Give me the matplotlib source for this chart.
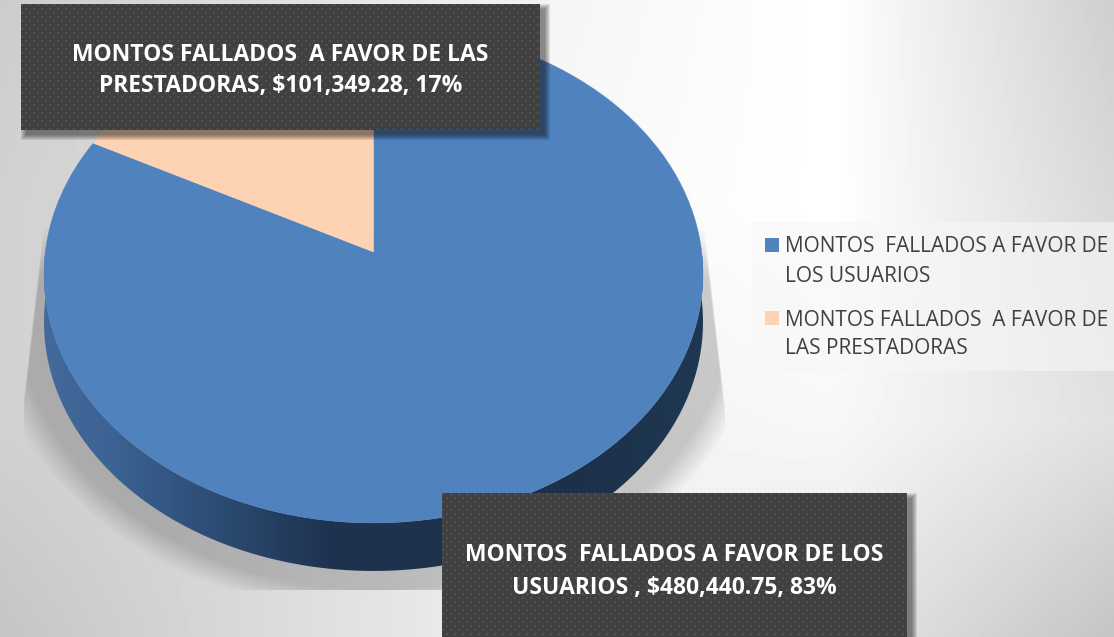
import matplotlib
matplotlib.use('Agg')
import matplotlib.pyplot as plt
from matplotlib.colors import LinearSegmentedColormap
from matplotlib.patches import PathPatch, Rectangle
from matplotlib.path import Path
from matplotlib.transforms import Transform
import numpy as np

plt.rcParams['font.family'] = ['Open Sans', 'DejaVu Sans']

W, H = 1114, 637

legend_lines = [
    ['MONTOS  FALLADOS A FAVOR DE', 'LOS USUARIOS'],
    ['MONTOS FALLADOS  A FAVOR DE', 'LAS PRESTADORAS'],
]
label_lines = [
    ['MONTOS  FALLADOS A FAVOR DE LOS', 'USUARIOS , $480,440.75, 83%'],
    ['MONTOS FALLADOS  A FAVOR DE LAS', 'PRESTADORAS, $101,349.28, 17%'],
]
amounts = [480440.75, 101349.28]
colors = ['#5082be', '#fdd3b4']

CX, CY = 373.5, 252     # apex of the pie in pixels
K, A, C = 0.0884, 247, 328.2
DEPTH = 48

# gray levels of the page background, read at a coarse grid
bg_levels = np.array([
    [0.80, 0.88, 0.96, 1.00, 0.81],
    [0.82, 0.88, 0.97, 1.00, 0.85],
    [0.82, 0.86, 0.95, 0.97, 0.88],
    [0.77, 0.86, 0.95, 0.90, 0.77],
])


class Perspective(Transform):
    # tilted pie: unit circle to an ellipse, apex stays off centre
    input_dims = 2
    output_dims = 2

    def transform_non_affine(self, values):
        u, v = values[:, 0], values[:, 1]
        d = 1 + K * v
        return np.column_stack([CX + C * u / d, CY - A * v / d])


def box(ax, x0, y0, x1, y1, lines, line_y):
    for i in range(5, -1, -1):
        ax.add_patch(Rectangle((x0 + 5 - i, y0 + 5 - i), x1 - x0 + 2 * i, y1 - y0 + 2 * i,
                               fc='black', ec='none', alpha=0.09, zorder=5))
    w, h = int(x1 - x0), int(y1 - y0)
    yy, xx = np.mgrid[0:h, 0:w]
    dots = ((xx % 8 < 2) & (yy % 8 < 2)) | (((xx + 4) % 8 < 2) & ((yy + 4) % 8 < 2))
    img = np.where(dots, 0.32, 0.25)
    ax.imshow(img, extent=(x0, x1, y1, y0), cmap='gray', vmin=0, vmax=1,
              interpolation='bilinear', aspect='auto', zorder=6)
    for line, y in zip(lines, line_y):
        ax.text((x0 + x1) / 2, y, line, color='white', fontsize=16.45, fontweight='bold',
                ha='center', va='center', zorder=7)


fig = plt.figure(figsize=(W / 100, H / 100), dpi=100)
ax = fig.add_axes([0, 0, 1, 1])

wedges, _ = ax.pie(amounts, colors=colors, startangle=90, counterclock=False)

ax.set_aspect('auto')
ax.axis('off')

# background
rows, cols = bg_levels.shape
dx, dy = W / (cols - 1), H / (rows - 1)
ax.imshow(bg_levels, extent=(-dx / 2, W + dx / 2, H + dy / 2, -dy / 2), cmap='gray', vmin=0, vmax=1,
          interpolation='bilinear', aspect='auto', zorder=0)

# blurred shadow under the pie, cut by two slanted edges at the sides
yy, xx = np.mgrid[0:H, 0:W]
r = np.hypot((xx - 373.5) / 375, (yy - 296) / 305)
shadow = np.clip((1.04 - r) / 0.08, 0, 1)
edge = 330 + (yy - 220) * 0.115 - np.abs(xx - 373.5)
shadow = shadow * np.clip(edge / 2, 0, 1) * np.clip((yy - 225) / 55, 0, 1)
shadow[(yy > 589) | (xx < 24) | (xx > 724)] = 0
rgba = np.zeros((H, W, 4))
rgba[..., 3] = shadow * 0.19
ax.imshow(rgba, extent=(0, W, H, 0), aspect='auto', zorder=1)

# side wall, taken from the outline of the top face
t = np.radians(np.linspace(180, 360, 300))
rim = Perspective().transform_non_affine(np.column_stack([np.cos(t), np.sin(t)]))
low = rim + [0, DEPTH]
side = Path(np.vstack([rim, low[::-1], rim[:1]]), closed=True)
side_cmap = LinearSegmentedColormap.from_list(
    'side', [(0, '#44699b'), (0.1, '#3c6394'), (0.24, '#2e4f78'), (0.43, '#1f3350'),
             (0.8, '#1c3049'), (1, '#1f3852')])
grad = ax.imshow(np.linspace(0, 1, 256)[None, :], extent=(rim[:, 0].min(), rim[:, 0].max(), H, 0),
                 cmap=side_cmap, aspect='auto', zorder=2)
clip = PathPatch(side, fc='none', ec='none', transform=ax.transData, zorder=2)
ax.add_patch(clip)
grad.set_clip_path(clip)

for wedge in wedges:
    wedge.set_transform(Perspective() + ax.transData)
    wedge.set_zorder(3)
    wedge.set_edgecolor(wedge.get_facecolor())
    wedge.set_linewidth(0.3)

# legend
ax.add_patch(Rectangle((752, 222), W - 752, 149, fc='#f7f7f7', ec='none', alpha=0.6, zorder=4))
for color, lines, y0 in zip(colors, legend_lines, [245, 318]):
    ax.add_patch(Rectangle((765, y0 - 7), 14, 14, fc=color, ec='none', zorder=5))
    ax.text(785, y0 + 2, lines[0], color='#404040', fontsize=15.03, va='center', ha='left', zorder=5)
    ax.text(785, y0 + 31, lines[1], color='#404040', fontsize=15.03, va='center', ha='left', zorder=5)

box(ax, 21, 4, 540, 130, label_lines[1], [55, 86])
box(ax, 442, 493, 907, 637, label_lines[0], [555, 588])

ax.set_xlim(0, W)
ax.set_ylim(H, 0)
fig.savefig('out.png', dpi=100)
